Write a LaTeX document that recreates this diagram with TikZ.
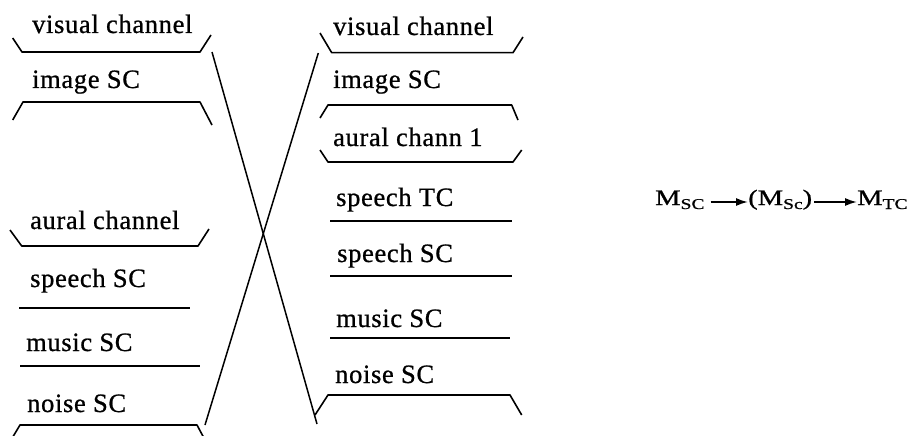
\documentclass[tikz,border=0pt]{standalone}
\usepackage{fontspec}
\setmainfont[LetterSpace=2.5,FakeBold=0.8]{Liberation Serif}
\newfontfamily\formfont[FakeStretch=1.3,FakeBold=0.9]{Liberation Serif}
\usetikzlibrary{arrows.meta}
\tikzset{
  lab/.style={anchor=base west, inner sep=0pt, font=\fontsize{26.5}{30}\selectfont},
  form/.style={anchor=base west, inner sep=0pt, font=\formfont\fontsize{22}{24}\selectfont},
  rule/.style={line width=1.6pt, line join=round},
  cross/.style={line width=1.5pt},
  arr/.style={line width=1.7pt, -{Latex[length=12pt,width=8pt]}}
}
\newcommand{\subx}[1]{\raisebox{-4pt}{\fontsize{15}{17}\selectfont #1}}
\begin{document}
\begin{tikzpicture}[x=1pt,y=-1pt]
\useasboundingbox (0,0) rectangle (913,436);
\clip (0,0) rectangle (913,436);

% left column labels
\node[lab] (lvis) at (32,33) {visual channel};
\node[lab] (limg) at (32,88) {image SC};
\node[lab] (laur) at (30,229) {aural channel};
\node[lab] (lsp) at (30,287) {speech SC};
\node[lab] (lmu) at (26,351) {music SC};
\node[lab] (lno) at (27,412) {noise SC};

% left column rules
\draw[rule] (12.7,38) -- (22,52) -- (200,52) -- (211,35);
\draw[rule] (12.7,120) -- (23,102) -- (200,102) -- (212,125);
\draw[rule] (10,230) -- (21.7,246) -- (198,246) -- (209,229);
\draw[rule] (19,308) -- (190,308);
\draw[rule] (20,366) -- (200,366);
\draw[rule] (11,440) -- (20,425) -- (197,425) -- (205,440);

% middle column labels
\node[lab] (mvis) at (333,35) {visual channel};
\node[lab] (mimg) at (333,88) {image SC};
\node[lab] (maur) at (333,146) {aural chann 1};
\node[lab] (mstc) at (336,206) {speech TC};
\node[lab] (mssc) at (337,262) {speech SC};
\node[lab] (mmu) at (336,327) {music SC};
\node[lab] (mno) at (335,383) {noise SC};

% middle column rules
\draw[rule] (320,33) -- (331.7,52.7) -- (513,52.7) -- (523,37);
\draw[rule] (320,118) -- (328,105) -- (511.7,105) -- (518,120);
\draw[rule] (320,150) -- (328,162) -- (513,162) -- (521.7,150);
\draw[rule] (330,221) -- (511.5,221);
\draw[rule] (330,276) -- (512,276);
\draw[rule] (330,338) -- (510,338);
\draw[rule] (315,415) -- (328,395) -- (510,395) -- (521.7,415);

% crossing lines
\coordinate (a1) at (212,52);
\coordinate (a2) at (317,424);
\coordinate (b1) at (318.3,53);
\coordinate (b2) at (205,425);
\draw[cross] (a1) -- (a2);
\draw[cross] (b1) -- (b2);

% formula
\node[form] (m1) at (655,205) {M\subx{SC}};
\node[form] (m2) at (748,205) {(M\subx{Sc})};
\node[form] (m3) at (857,205) {M\subx{TC}};
\draw[arr] ([xshift=6pt,yshift=3pt]m1.base east) -- ([yshift=3pt]m2.base west);
\draw[arr] ([xshift=2pt,yshift=3pt]m2.base east) -- ([yshift=3pt]m3.base west);
\end{tikzpicture}
\end{document}
